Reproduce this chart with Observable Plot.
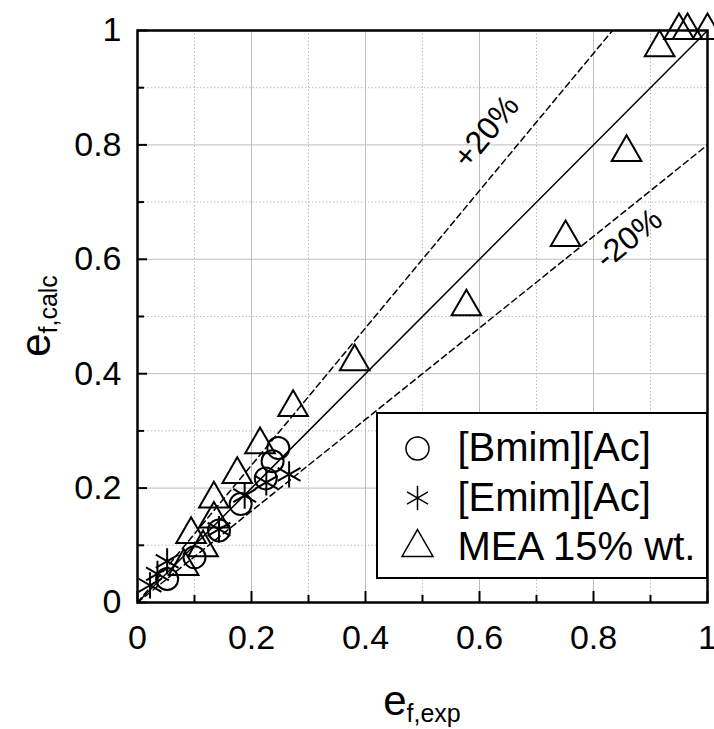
<!DOCTYPE html>
<html><head><meta charset="utf-8">
<script src="https://cdn.jsdelivr.net/npm/d3@7"></script>
<script src="https://cdn.jsdelivr.net/npm/@observablehq/plot@0.6"></script>
<style>body{margin:0;background:#fff} svg{display:block}</style>
</head><body><div id="chart"></div>
<script>
// ---- data ----
const bmimExp  = [0.052, 0.100, 0.143, 0.181, 0.225, 0.237, 0.247];
const bmimCalc = [0.041, 0.079, 0.126, 0.172, 0.217, 0.247, 0.270];
const emimExp  = [0.022, 0.035, 0.052, 0.143, 0.188, 0.226, 0.266];
const emimCalc = [0.030, 0.050, 0.072, 0.128, 0.187, 0.210, 0.224];
const meaExp   = [0.081, 0.094, 0.115, 0.134, 0.134, 0.175, 0.215, 0.273, 0.381, 0.577, 0.751, 0.858, 0.916, 0.950, 0.965, 1.000];
const meaCalc  = [0.063, 0.119, 0.096, 0.146, 0.181, 0.224, 0.276, 0.341, 0.421, 0.517, 0.638, 0.787, 0.970, 1.000, 1.000, 1.000];
const legendNames = ["[Bmim][Ac]", "[Emim][Ac]", "MEA 15% wt."];
const legendSymbols = ["circle", "asterisk", "triangle"];
const ratios = [1, 1.2, 0.8];
const bandLabels = ["+20%", "-20%"];
const majorTicks = [0, 0.2, 0.4, 0.6, 0.8, 1];
const minorTicks = [0.1, 0.3, 0.5, 0.7, 0.9];

// ---- layout ----
const W = 714, H = 729, mL = 137, mR = 7, mT = 30, mB = 127;
const pw = W - mL - mR, ph = H - mT - mB;
const dxu = n => n / pw, dyu = n => n / ph;
const FONT = "Liberation Sans, Arial, Helvetica, sans-serif";

const toPts = (xs, ys) => xs.map((x, i) => ({x, y: ys[i]}));
const bmim = toPts(bmimExp, bmimCalc);
const emim = toPts(emimExp, emimCalc);
const mea = toPts(meaExp, meaCalc);

const lineFor = f => [{x: 0, y: 0}, {x: Math.min(1, 1 / f), y: Math.min(1, f)}];

const legBox = {x1: dxu(377 - mL), x2: 1, y1: dyu(602 - 578), y2: dyu(602 - 413)};
const legRows = legendNames.map((name, i) => ({
  name, symbol: legendSymbols[i],
  sx: dxu(417 - mL), tx: dxu(457 - mL), y: dyu(602 - (448 + i * 49.5))
}));

const labelPos = [
  {text: bandLabels[0], x: 0.612, y: 0.823, rotate: -50.3},
  {text: bandLabels[1], x: 0.862, y: 0.636, rotate: -38.8}
];

const fmt = d => String(d);
const gridStroke = "#bdbdbd";
const chart = Plot.plot({
  width: W, height: H,
  marginLeft: mL, marginRight: mR, marginTop: mT, marginBottom: mB,
  x: {domain: [0, 1]}, y: {domain: [0, 1]},
  style: {fontFamily: FONT, fontSize: "34px", background: "white", color: "black", overflow: "visible"},
  marks: [
    Plot.ruleX(majorTicks.slice(1, -1), {stroke: gridStroke, strokeWidth: 1}),
    Plot.ruleY(majorTicks.slice(1, -1), {stroke: gridStroke, strokeWidth: 1}),
    Plot.ruleX(minorTicks, {stroke: gridStroke, strokeWidth: 1, strokeDasharray: "1.5,2"}),
    Plot.ruleY(minorTicks, {stroke: gridStroke, strokeWidth: 1, strokeDasharray: "1.5,2"}),
    Plot.line(lineFor(ratios[0]), {x: "x", y: "y", stroke: "black", strokeWidth: 1.5}),
    Plot.line(lineFor(ratios[1]), {x: "x", y: "y", stroke: "black", strokeWidth: 1.5, strokeDasharray: "6,4"}),
    Plot.line(lineFor(ratios[2]), {x: "x", y: "y", stroke: "black", strokeWidth: 1.5, strokeDasharray: "6,4"}),
    ...labelPos.map(l => Plot.text([l], {x: "x", y: "y", text: "text", rotate: l.rotate, fontSize: 32, fill: "black", fontFamily: FONT})),
    Plot.dot(bmim, {x: "x", y: "y", symbol: "circle", r: 11, stroke: "black", strokeWidth: 2, fill: "none"}),
    Plot.dot(emim, {x: "x", y: "y", symbol: "asterisk", r: 12.5, stroke: "black", strokeWidth: 2}),
    Plot.dot(mea, {x: "x", y: "y", symbol: "triangle", r: 11, stroke: "black", strokeWidth: 2, fill: "none"}),
    Plot.rect([legBox], {x1: "x1", x2: "x2", y1: "y1", y2: "y2", fill: "white", stroke: "black", strokeWidth: 2}),
    Plot.dot(legRows, {x: "sx", y: "y", symbol: "symbol", r: 11.5, stroke: "black", strokeWidth: 1.5, fill: "none"}),
    Plot.text(legRows, {x: "tx", y: "y", text: "name", textAnchor: "start", fontSize: 40, fill: "black", fontFamily: FONT}),
    Plot.ruleX(majorTicks, {y1: 0, y2: dyu(11), stroke: "black", strokeWidth: 2}),
    Plot.ruleX(minorTicks, {y1: 0, y2: dyu(7), stroke: "black", strokeWidth: 2}),
    Plot.ruleY(majorTicks, {x1: 0, x2: dxu(10), stroke: "black", strokeWidth: 2}),
    Plot.ruleY(minorTicks, {x1: 0, x2: dxu(7), stroke: "black", strokeWidth: 2}),
    Plot.frame({stroke: "black", strokeWidth: 2.5}),
    Plot.axisX({ticks: majorTicks, tickFormat: fmt, tickSize: 0, tickPadding: 22, fontSize: 34, label: null}),
    Plot.axisY({ticks: majorTicks, tickFormat: fmt, tickSize: 0, tickPadding: 16, fontSize: 34, label: null})
  ]
});
document.getElementById("chart").appendChild(chart);

const svg = d3.select(chart);
const xt = svg.append("text").attr("x", mL + pw / 2).attr("y", 715)
  .attr("text-anchor", "middle").attr("font-family", FONT).attr("fill", "black");
xt.append("tspan").attr("font-size", 42).text("e");
xt.append("tspan").attr("font-size", 25).attr("dy", 7).text("f,exp");
const yt = svg.append("text").attr("transform", `translate(50,${mT + ph / 2}) rotate(-90)`)
  .attr("text-anchor", "middle").attr("font-family", FONT).attr("fill", "black");
yt.append("tspan").attr("font-size", 42).text("e");
yt.append("tspan").attr("font-size", 25).attr("dy", 7).text("f,calc");
</script>
</body></html>
